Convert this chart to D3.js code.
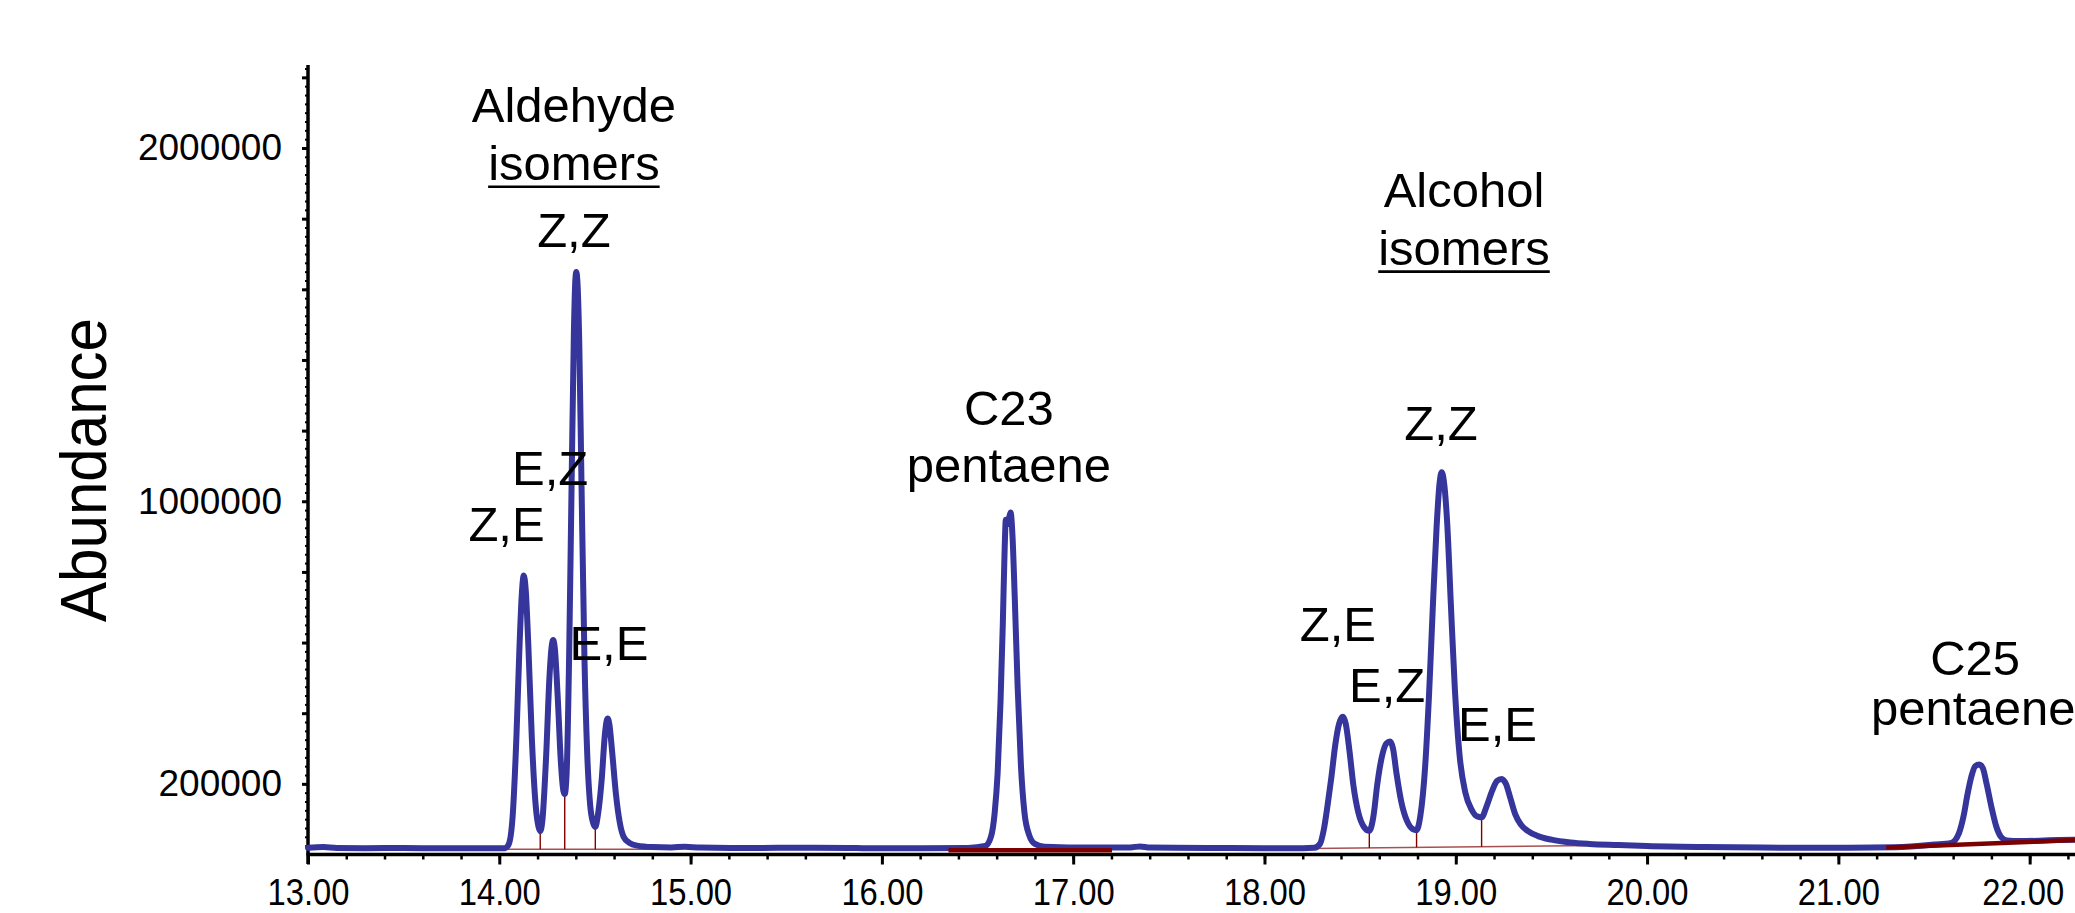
<!DOCTYPE html>
<html>
<head>
<meta charset="utf-8">
<script src="https://cdn.jsdelivr.net/npm/d3@7"></script>
<style>
  html, body { margin: 0; padding: 0; background: #fff; }
  svg { display: block; font-family: "Liberation Sans", Arial, sans-serif; }
</style>
</head>
<body>
<div id="chart"></div>
<script>
// retention time (min) and abundance
const times = [
  13.00, 13.08, 13.15, 13.30, 13.50, 13.70, 13.90, 14.03, 14.05, 14.07,
  14.09, 14.105, 14.118, 14.128, 14.138, 14.152, 14.17, 14.19, 14.205, 14.214,
  14.225, 14.245, 14.262, 14.274, 14.282, 14.29, 14.305, 14.322, 14.335, 14.342,
  14.352, 14.365, 14.378, 14.39, 14.398, 14.4025, 14.408, 14.418, 14.43, 14.445,
  14.46, 14.475, 14.49, 14.502, 14.515, 14.535, 14.552, 14.562, 14.567, 14.575,
  14.59, 14.61, 14.63, 14.65, 14.68, 14.72, 14.80, 14.90, 14.97, 15.05,
  15.30, 15.60, 15.90, 16.20, 16.45, 16.54, 16.57, 16.59, 16.605, 16.62,
  16.632, 16.642, 16.648, 16.657, 16.666, 16.673, 16.682, 16.695, 16.71, 16.727,
  16.745, 16.77, 16.80, 16.85, 17.10, 17.30, 17.35, 17.40, 17.70, 18.00,
  18.20, 18.26, 18.29, 18.31, 18.33, 18.35, 18.37, 18.39, 18.409, 18.425,
  18.445, 18.465, 18.49, 18.52, 18.548, 18.57, 18.59, 18.615, 18.638, 18.656,
  18.672, 18.69, 18.715, 18.745, 18.775, 18.795, 18.815, 18.84, 18.86, 18.88,
  18.90, 18.915, 18.926, 18.937, 18.955, 18.975, 18.995, 19.02, 19.05, 19.085,
  19.11, 19.135, 19.16, 19.19, 19.215, 19.24, 19.262, 19.285, 19.31, 19.34,
  19.376, 19.43, 19.50, 19.60, 19.70, 19.85, 20.00, 20.30, 20.60, 21.00,
  21.30, 21.50, 21.59, 21.63, 21.655, 21.675, 21.695, 21.715, 21.737, 21.755,
  21.775, 21.80, 21.825, 21.85, 21.88, 21.95, 22.05, 22.15, 22.24
];
const abundance = [
  19000, 21000, 18500, 18000, 18500, 17500, 17500, 18000, 30000, 110000,
  340000, 580000, 740000, 790000, 750000, 590000, 330000, 140000, 78000, 66000,
  95000, 280000, 500000, 590000, 607000, 585000, 450000, 260000, 180000, 171000,
  230000, 560000, 1050000, 1480000, 1630000, 1649000, 1625000, 1450000, 1040000, 560000,
  280000, 140000, 90000, 78000, 110000, 210000, 340000, 380000, 385000, 370000,
  290000, 170000, 90000, 50000, 33000, 25000, 21000, 20000, 22000, 19500,
  18500, 19000, 18000, 17500, 18500, 24000, 50000, 120000, 230000, 430000,
  650000, 870000, 948000, 935000, 955000, 968000, 910000, 720000, 470000, 250000,
  120000, 55000, 30000, 22000, 19500, 20000, 23000, 19500, 18500, 18000,
  18000, 19000, 30000, 70000, 140000, 220000, 310000, 370000, 390000, 370000,
  290000, 195000, 120000, 78000, 67000, 110000, 200000, 280000, 315000, 320000,
  300000, 230000, 150000, 95000, 72000, 69000, 110000, 250000, 450000, 700000,
  930000, 1050000, 1082000, 1060000, 940000, 700000, 470000, 280000, 175000, 125000,
  108000, 105000, 135000, 180000, 208000, 214000, 200000, 160000, 115000, 85000,
  67000, 52000, 42000, 34000, 30000, 27000, 24000, 21000, 19500, 19000,
  20500, 28000, 33000, 60000, 110000, 170000, 220000, 250000, 255000, 245000,
  200000, 135000, 80000, 50000, 40000, 38000, 39000, 41000, 42000
];

// integration marks
const groupBaselines = [
  [[14.022, 15000], [14.887, 15000]],
  [[18.244, 17000], [19.958, 27000]]
];
const dropTimes = [14.214, 14.342, 14.502, 18.548, 18.795, 19.135];
const peakBaselines = [
  [[16.348, 12000], [17.203, 12000]],
  [[21.25, 20000], [22.24, 41000]]
];

const xMajor = [13, 14, 15, 16, 17, 18, 19, 20, 21, 22];
const yLabelled = [200000, 1000000, 2000000];

// peak labels: text, time, abundance at baseline of text
const labels = [
  { t: "Aldehyde", x: 14.39, y: 2075000 },
  { t: "isomers", x: 14.39, y: 1910000, u: true },
  { t: "Z,Z", x: 14.39, y: 1720000 },
  { t: "E,Z", x: 14.266, y: 1045000 },
  { t: "Z,E", x: 14.038, y: 887000 },
  { t: "E,E", x: 14.573, y: 550000 },
  { t: "C23", x: 16.664, y: 1216000 },
  { t: "pentaene", x: 16.664, y: 1054000 },
  { t: "Alcohol", x: 19.043, y: 1834000 },
  { t: "isomers", x: 19.043, y: 1670000, u: true },
  { t: "Z,Z", x: 18.923, y: 1172000 },
  { t: "Z,E", x: 18.384, y: 605000 },
  { t: "E,Z", x: 18.641, y: 432000 },
  { t: "E,E", x: 19.218, y: 322000 },
  { t: "C25", x: 21.715, y: 508000 },
  { t: "pentaene", x: 21.705, y: 366000 }
];

const width = 2075, height = 913;
const svg = d3.select('#chart').append('svg')
  .attr('width', width)
  .attr('height', height);

const x = d3.scaleLinear().domain([13, 22.237]).range([308, 2075]);
const y = d3.scaleLinear().domain([0, 2235000]).range([854.5, 65]);

// x axis: minor ticks, then major ticks with labels
svg.append('g')
  .attr('transform', 'translate(0,' + y(0) + ')')
  .call(d3.axisBottom(x).tickValues(d3.range(13.2, 22.237, 0.2)).tickSize(5).tickFormat(''))
  .call(g => g.select('.domain').remove())
  .call(g => g.selectAll('line').attr('stroke', '#000').attr('stroke-width', 2.5));

const xAxisG = svg.append('g')
  .attr('transform', 'translate(0,' + y(0) + ')')
  .call(d3.axisBottom(x).tickValues(xMajor).tickSize(10).tickFormat(d3.format('.2f')));
xAxisG.select('.domain').remove();
xAxisG.selectAll('line').attr('stroke', '#000').attr('stroke-width', 3);
xAxisG.selectAll('text')
  .attr('y', 50.5).attr('dy', 0)
  .attr('dx', d => d === 22 ? -7 : 0)
  .attr('font-size', 36)
  .attr('font-family', '"Liberation Sans", Arial, sans-serif')
  .attr('fill', '#000')
  .attr('textLength', 82)
  .attr('lengthAdjust', 'spacingAndGlyphs');

// y axis: small ticks, 200000 ticks, labels
svg.append('g')
  .attr('transform', 'translate(308,0)')
  .call(d3.axisLeft(y).tickValues(d3.range(25000, 2235000, 25000)).tickSize(3).tickFormat(''))
  .call(g => g.select('.domain').remove())
  .call(g => g.selectAll('line').attr('stroke', '#000').attr('stroke-width', 2));

const yAxisG = svg.append('g')
  .attr('transform', 'translate(308,0)')
  .call(d3.axisLeft(y).tickValues(d3.range(200000, 2235000, 200000)).tickSize(6).tickPadding(20)
    .tickFormat(d => yLabelled.includes(d) ? d3.format('d')(d) : ''));
yAxisG.select('.domain').remove();
yAxisG.selectAll('line').attr('stroke', '#000').attr('stroke-width', 3);
yAxisG.selectAll('text')
  .attr('font-size', 37)
  .attr('font-family', '"Liberation Sans", Arial, sans-serif')
  .attr('fill', '#000');

// axis lines
svg.append('line')
  .attr('x1', 308).attr('x2', 308)
  .attr('y1', 65).attr('y2', 864)
  .attr('stroke', '#000').attr('stroke-width', 3.5);
svg.append('line')
  .attr('x1', 306.5).attr('x2', width)
  .attr('y1', y(0)).attr('y2', y(0))
  .attr('stroke', '#000').attr('stroke-width', 3.5);

// y title
svg.append('text')
  .attr('transform', 'translate(106,470) rotate(-90)')
  .attr('text-anchor', 'middle')
  .attr('font-size', 64)
  .attr('textLength', 304)
  .attr('lengthAdjust', 'spacingAndGlyphs')
  .text('Abundance');

// thin group baselines and drop lines
const interp = (seg, t) => seg[0][1] + (seg[1][1] - seg[0][1]) * (t - seg[0][0]) / (seg[1][0] - seg[0][0]);
svg.selectAll('.gbase').data(groupBaselines).enter().append('line')
  .attr('class', 'gbase')
  .attr('x1', d => x(d[0][0])).attr('y1', d => y(d[0][1]))
  .attr('x2', d => x(d[1][0])).attr('y2', d => y(d[1][1]))
  .attr('stroke', '#a85050').attr('stroke-width', 1.6);

svg.selectAll('.drop').data(dropTimes).enter().append('line')
  .attr('class', 'drop')
  .attr('x1', d => x(d)).attr('x2', d => x(d))
  .attr('y1', d => y(abundance[times.indexOf(d)]))
  .attr('y2', d => y(interp(groupBaselines.find(s => d >= s[0][0] && d <= s[1][0]), d)))
  .attr('stroke', '#800000').attr('stroke-width', 1.4);

// signal trace
const line = d3.line()
  .x((d, i) => x(times[i]))
  .y(d => y(d))
  .curve(d3.curveMonotoneX);

svg.append('path')
  .datum(abundance)
  .attr('d', line)
  .attr('fill', 'none')
  .attr('stroke', '#35359b')
  .attr('stroke-width', 6)
  .attr('stroke-linejoin', 'round')
  .attr('stroke-linecap', 'round');

// thick single peak baselines
svg.selectAll('.pbase').data(peakBaselines).enter().append('line')
  .attr('class', 'pbase')
  .attr('x1', d => x(d[0][0])).attr('y1', d => y(d[0][1]))
  .attr('x2', d => x(d[1][0])).attr('y2', d => y(d[1][1]))
  .attr('stroke', '#7d0000').attr('stroke-width', 4.5);

// peak labels
const lab = svg.selectAll('.lab').data(labels).enter().append('text')
  .attr('class', 'lab')
  .attr('x', d => x(d.x))
  .attr('y', d => y(d.y))
  .attr('text-anchor', 'middle')
  .attr('font-size', 49)
  .attr('fill', '#000')
  .text(d => d.t);

lab.filter(d => d.u).each(function (d) {
  const bb = this.getBBox();
  svg.append('line')
    .attr('x1', bb.x).attr('x2', bb.x + bb.width)
    .attr('y1', y(d.y) + 7).attr('y2', y(d.y) + 7)
    .attr('stroke', '#000').attr('stroke-width', 2.6);
});
</script>
</body>
</html>
